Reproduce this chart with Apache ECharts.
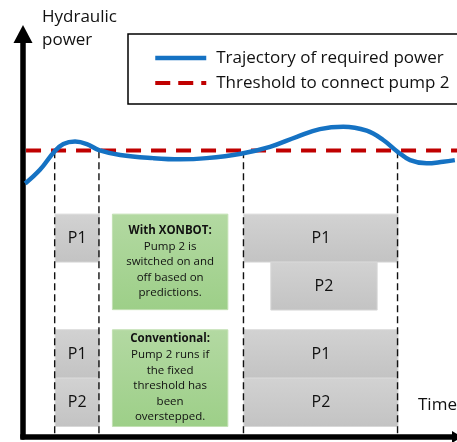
<!DOCTYPE html>
<html>
<head>
<meta charset="utf-8">
<script src="https://cdn.jsdelivr.net/npm/echarts@6/dist/echarts.min.js"></script>
<style>html,body{margin:0;padding:0;background:#fff;}#chart{width:457px;height:442px;}</style>
</head>
<body>
<div id="chart"></div>
<script>
// ---- data (time axis 0..100, power axis 0..100) ----
const curveName = 'Trajectory of required power';
const thresholdName = 'Threshold to connect pump 2';
const curveTime  = [0.5, 3.9, 7.2, 9.3, 12.0, 14.7, 17.5, 22.4, 30.0, 36.2, 42.3, 50.2, 56.9, 63.1, 68.4, 73.8, 79.2, 83.0, 86.3, 89.2, 93.0, 96.8, 99.5];
const curvePower = [62.9, 66.3, 70.8, 72.7, 73.3, 72.7, 71.2, 70.0, 69.2, 68.9, 69.2, 70.3, 72.0, 74.5, 76.4, 77.0, 76.0, 73.7, 70.8, 68.7, 67.9, 68.3, 68.7];
const thresholdTime  = [0.7, 100];
const thresholdPower = [71.1, 71.1];
const switchTimes = [7.3, 17.5, 50.8, 86.3];
const switchTop = 70.9;
// pump blocks: [start, end, low, high, label]
const pumpBoxes = [
  [7.4, 17.6, 43.4, 55.3, 'P1'],
  [50.9, 86.4, 43.4, 55.3, 'P1'],
  [57.1, 81.6, 31.5, 43.4, 'P2'],
  [7.4, 17.6, 14.6, 26.6, 'P1'],
  [7.4, 17.6, 2.6, 14.6, 'P2'],
  [50.9, 86.4, 14.6, 26.6, 'P1'],
  [50.9, 86.4, 2.6, 14.6, 'P2']
];
// notes: [start, end, low, high, title, body]
const noteBoxes = [
  [20.6, 47.2, 31.6, 55.3, 'With XONBOT:', 'Pump 2 is\nswitched on and\noff based on\npredictions.'],
  [20.6, 47.2, 2.6, 26.6, 'Conventional:', 'Pump 2 runs if\nthe fixed\nthreshold has\nbeen\noverstepped.']
];
const yName = 'Hydraulic\npower';
const xName = 'Time';

const FONT = 'Open Sans';
const chart = echarts.init(document.getElementById('chart'), null, {renderer: 'canvas'});

function boxRender(list, kind) {
  return function (params, api) {
    const d = list[params.dataIndex];
    const tl = api.coord([d[0], d[3]]);
    const br = api.coord([d[1], d[2]]);
    const isNote = kind === 'note';
    return {
      type: 'rect',
      shape: {x: tl[0], y: tl[1], width: br[0] - tl[0], height: br[1] - tl[1]},
      style: {
        fill: new echarts.graphic.LinearGradient(0, 0, 0, 1, [
          {offset: 0, color: isNote ? '#b3d9a2' : '#d2d2d2'},
          {offset: 1, color: isNote ? '#9dcf88' : '#c3c3c3'}
        ]),
        stroke: isNote ? '#c2e0b3' : '#d8d8d8',
        lineWidth: 1
      },
      textContent: isNote ? {
        style: {
          text: '{b|' + d[4] + '}\n' + d[5],
          fontFamily: FONT, fontSize: 11.5, lineHeight: 15.6, fill: '#111', align: 'center',
          rich: {b: {fontFamily: FONT, fontSize: 11.5, fontWeight: 'bold', lineHeight: 15.6, fill: '#111'}}
        }
      } : {
        style: {text: d[4], fontFamily: FONT, fontSize: 16, fill: '#111'}
      },
      textConfig: {position: 'inside'}
    };
  };
}

const option = {
  animation: false,
  backgroundColor: '#fff',
  grid: {left: 23, right: 0, top: 34, bottom: 5, containLabel: false},
  xAxis: {
    type: 'value', min: 0, max: 100,
    axisLine: {show: true, symbol: ['none', 'triangle'], symbolSize: [12, 10],
      lineStyle: {color: '#000', width: 5.5, cap: 'square'}},
    axisTick: {show: false}, axisLabel: {show: false}, splitLine: {show: false}
  },
  yAxis: {
    type: 'value', min: 0, max: 100,
    axisLine: {show: true, symbol: ['none', 'triangle'], symbolSize: [19, 18],
      lineStyle: {color: '#000', width: 5.5}},
    axisTick: {show: false}, axisLabel: {show: false}, splitLine: {show: false}
  },
  legend: {
    orient: 'vertical', left: 153, top: 49.5, padding: 0,
    itemWidth: 51, itemHeight: 17, itemGap: 8,
    textStyle: {fontFamily: FONT, fontSize: 17, color: '#111', padding: [0, 0, 0, 5]},
    data: [
      {name: curveName, lineStyle: {width: 4.5}, itemStyle: {opacity: 0}},
      {name: thresholdName, lineStyle: {width: 4, type: [15, 8]}, itemStyle: {opacity: 0}}
    ],
    z: 10
  },
  graphic: [
    {type: 'rect', z: 0, shape: {x: 128, y: 34, width: 340, height: 70},
      style: {fill: '#fff', stroke: '#000', lineWidth: 1.5}},
    {type: 'text', x: 42, y: 5, style: {text: yName, fontFamily: FONT, fontSize: 17, lineHeight: 23.5, fill: '#111'}},
    {type: 'text', x: 418, y: 405, style: {text: xName, fontFamily: FONT, fontSize: 17, fill: '#111', verticalAlign: 'middle'}}
  ],
  series: [
    {
      type: 'custom', name: 'pumps', z: 1, silent: true,
      renderItem: boxRender(pumpBoxes, 'pump'),
      encode: {x: [0, 1], y: [2, 3]},
      data: pumpBoxes.map(d => d.slice(0, 4))
    },
    {
      type: 'custom', name: 'notes', z: 1, silent: true,
      renderItem: boxRender(noteBoxes, 'note'),
      encode: {x: [0, 1], y: [2, 3]},
      data: noteBoxes.map(d => d.slice(0, 4))
    },
    {
      type: 'custom', name: 'switch', z: 2, silent: true,
      renderItem: function (params, api) {
        const t = switchTimes[params.dataIndex];
        const a = api.coord([t, switchTop]);
        const b = api.coord([t, 0]);
        return {type: 'line', shape: {x1: a[0], y1: a[1], x2: b[0], y2: b[1]},
          style: {stroke: '#111', lineWidth: 1.4, lineDash: [7, 4]}};
      },
      encode: {x: 0, y: 1},
      data: switchTimes.map(t => [t, switchTop])
    },
    {
      type: 'line', name: thresholdName, z: 3, symbol: 'none',
      lineStyle: {color: '#c00000', width: 4, type: [15, 10]},
      itemStyle: {color: '#c00000'},
      data: thresholdTime.map((t, i) => [t, thresholdPower[i]])
    },
    {
      type: 'line', name: curveName, z: 4, symbol: 'none', smooth: 0.4,
      lineStyle: {color: '#1572c3', width: 4.5},
      itemStyle: {color: '#1572c3'},
      data: curveTime.map((t, i) => [t, curvePower[i]])
    }
  ]
};
chart.setOption(option);
</script>
</body>
</html>
